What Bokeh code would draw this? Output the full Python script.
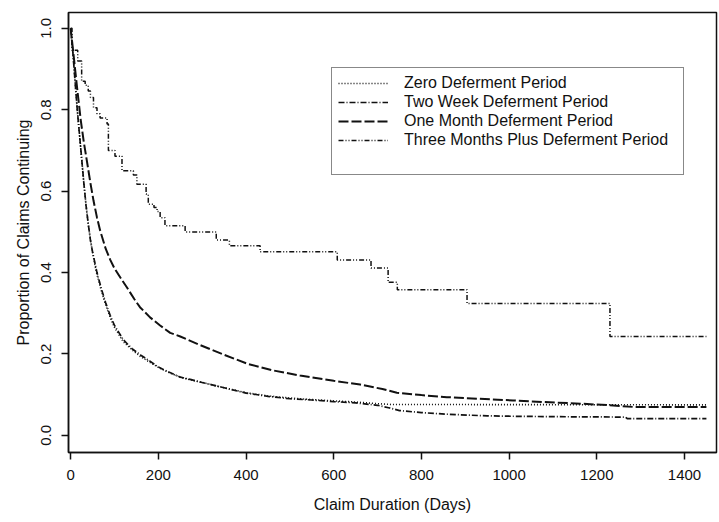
from bokeh.plotting import figure
from bokeh.models import Range1d, FixedTicker, Legend, LegendItem
from bokeh.embed import file_html
from bokeh.resources import INLINE

# ---------------- data ----------------
zero_days = [0, 5, 10, 15, 20, 25, 30, 35, 40, 45, 50, 55, 60, 70, 80, 90, 100, 120, 140,
             160, 180, 200, 225, 250, 275, 300, 350, 400, 450, 500, 550, 600, 650, 700, 730, 1450]
zero_prop = [1.0, 0.94, 0.87, 0.80, 0.74, 0.68, 0.62, 0.565, 0.52, 0.48, 0.45, 0.42, 0.395,
             0.355, 0.32, 0.29, 0.265, 0.23, 0.21, 0.193, 0.18, 0.167, 0.154, 0.143, 0.136,
             0.13, 0.117, 0.105, 0.097, 0.092, 0.088, 0.085, 0.082, 0.078, 0.076, 0.075]

two_week_days = [0, 5, 10, 15, 20, 25, 30, 35, 40, 45, 50, 55, 60, 70, 80, 90, 100, 120, 140,
                 160, 180, 200, 225, 250, 275, 300, 350, 400, 450, 500, 550, 600, 650, 700,
                 725, 750, 800, 860, 950, 1010, 1100, 1265, 1270, 1450]
two_week_prop = [1.0, 0.94, 0.87, 0.80, 0.74, 0.68, 0.62, 0.565, 0.52, 0.48, 0.45, 0.425,
                 0.40, 0.36, 0.325, 0.295, 0.27, 0.235, 0.213, 0.197, 0.183, 0.168, 0.155,
                 0.143, 0.137, 0.13, 0.117, 0.104, 0.096, 0.09, 0.087, 0.083, 0.08, 0.074,
                 0.068, 0.061, 0.056, 0.052, 0.048, 0.047, 0.046, 0.045, 0.041, 0.041]

one_month_days = [0, 5, 10, 15, 23, 30, 37, 45, 52, 60, 67, 80, 90, 100, 115, 128, 145, 158,
                  181, 204, 227, 250, 295, 350, 403, 460, 523, 600, 660, 711, 744, 800, 858,
                  930, 1009, 1080, 1162, 1230, 1283, 1450]
one_month_prop = [1.0, 0.95, 0.90, 0.85, 0.774, 0.72, 0.674, 0.62, 0.577, 0.535, 0.504, 0.458,
                  0.432, 0.41, 0.385, 0.364, 0.335, 0.315, 0.29, 0.27, 0.252, 0.243, 0.222,
                  0.198, 0.176, 0.16, 0.147, 0.134, 0.125, 0.114, 0.105, 0.099, 0.094, 0.09,
                  0.086, 0.082, 0.078, 0.074, 0.07, 0.07]

three_month_days = [0, 3, 16, 25, 33, 40, 45, 52, 60, 67, 83, 86, 101, 117, 143, 151, 172, 177,
                    190, 197, 204, 215, 261, 332, 362, 432, 608, 685, 724, 745, 904, 1230, 1450]
three_month_prop = [1.0, 0.946, 0.92, 0.87, 0.86, 0.846, 0.83, 0.805, 0.79, 0.78, 0.765, 0.70,
                    0.686, 0.65, 0.64, 0.617, 0.593, 0.568, 0.56, 0.55, 0.535, 0.515, 0.50,
                    0.48, 0.466, 0.451, 0.431, 0.411, 0.376, 0.358, 0.324, 0.243, 0.243]

series_names = ["Zero Deferment Period", "Two Week Deferment Period",
                "One Month Deferment Period", "Three Months Plus Deferment Period"]

x_ticks = [0, 200, 400, 600, 800, 1000, 1200, 1400]
y_ticks = [0.0, 0.2, 0.4, 0.6, 0.8, 1.0]
y_tick_labels = ["0.0", "0.2", "0.4", "0.6", "0.8", "1.0"]

x_title = "Claim Duration (Days)"
y_title = "Proportion of Claims Continuing"

# ---------------- figure ----------------
FONT = "Liberation Sans"
INK = "#111111"

p = figure(width=719, height=522, output_backend="svg", toolbar_location=None,
           x_range=Range1d(-5, 1473), y_range=Range1d(-0.042, 1.039),
           min_border_left=68, min_border_right=3, min_border_top=12, min_border_bottom=70)
p.background_fill_color = "white"
p.border_fill_color = "white"
p.grid.visible = False
p.outline_line_color = INK
p.outline_line_width = 1.5

r_zero = p.line(zero_days, zero_prop, line_color=INK, line_width=1.6, line_dash="1 2")
r_two = p.line(two_week_days, two_week_prop, line_color=INK, line_width=1.7, line_dash="6 2 1 2")
r_one = p.line(one_month_days, one_month_prop, line_color=INK, line_width=2.0, line_dash="10 3")
r_three = p.step(three_month_days, three_month_prop, mode="after", line_color=INK,
                 line_width=1.5, line_dash="5 2 1 2 1 2")
r_blank = p.line([], [], line_alpha=0)

for ax in (p.xaxis[0], p.yaxis[0]):
    ax.axis_line_color = INK
    ax.axis_line_width = 1.5
    ax.major_tick_line_color = INK
    ax.major_tick_line_width = 1.5
    ax.major_tick_out = 7
    ax.major_tick_in = 0
    ax.minor_tick_line_color = None
    ax.major_label_text_font = FONT
    ax.major_label_text_font_size = "15px"
    ax.major_label_text_color = INK
    ax.axis_label_text_font = FONT
    ax.axis_label_text_font_size = "16px"
    ax.axis_label_text_font_style = "normal"
    ax.axis_label_text_color = INK

p.xaxis[0].ticker = FixedTicker(ticks=x_ticks)
p.xaxis[0].major_label_standoff = 10
p.xaxis[0].axis_label = x_title
p.xaxis[0].axis_label_standoff = 13

p.yaxis[0].ticker = FixedTicker(ticks=y_ticks)
p.yaxis[0].major_label_overrides = {t: s for t, s in zip(y_ticks, y_tick_labels)}
p.yaxis[0].major_label_orientation = "vertical"
p.yaxis[0].major_label_standoff = 10
p.yaxis[0].axis_label = y_title
p.yaxis[0].axis_label_standoff = 7

items = [LegendItem(label=n, renderers=[r]) for n, r in
         zip(series_names, [r_zero, r_two, r_one, r_three])]
items.append(LegendItem(label=" ", renderers=[r_blank]))
legend = Legend(items=items, location=(263, 277), orientation="vertical",
                padding=6, margin=0, spacing=1, glyph_width=50, glyph_height=18,
                label_height=18, label_width=273, label_standoff=16,
                label_text_font=FONT, label_text_font_size="16px", label_text_color=INK,
                border_line_color=INK, border_line_width=1.5,
                background_fill_color="white", background_fill_alpha=1.0)
p.add_layout(legend)

open("out.html", "w").write(file_html(p, INLINE))
